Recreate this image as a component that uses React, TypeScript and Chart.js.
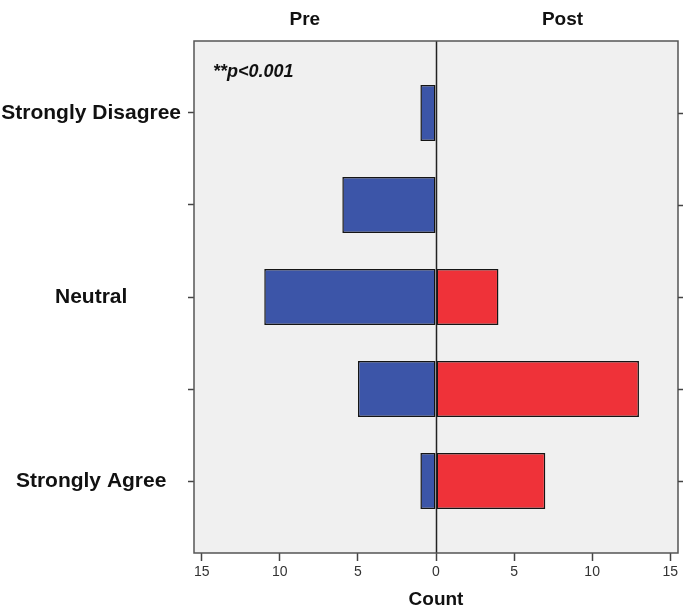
import React, { useEffect, useRef } from "react";
import { Chart, registerables } from "chart.js";

Chart.register(...registerables);

const categories = ["Strongly Disagree", "Disagree", "Neutral", "Agree", "Strongly Agree"];
const shownLabels = ["Strongly Disagree", "", "Neutral", "", "Strongly Agree"];
const preCounts = [1, 6, 11, 5, 1];
const postCounts = [0, 0, 4, 13, 7];
const xTickValues = [-15, -10, -5, 0, 5, 10, 15];
const panelTitles = ["Pre", "Post"];
const panelTitleAt = [-8.4, 8.1];
const noteText = "**p<0.001";

const FONT = '"Liberation Sans", Arial, Helvetica, sans-serif';

const decor = {
  id: "decor",
  beforeDraw(chart: any) {
    const { ctx, chartArea } = chart;
    ctx.save();
    ctx.fillStyle = "#F0F0F0";
    ctx.fillRect(chartArea.left, chartArea.top, chartArea.right - chartArea.left, chartArea.bottom - chartArea.top);
    ctx.restore();
  },
  afterDatasetsDraw(chart: any) {
    const { ctx, chartArea, scales } = chart;
    const xs = scales.x;
    const ys = scales.y;
    ctx.save();
    // zero line
    const x0 = Math.round(xs.getPixelForValue(0)) + 0.5;
    ctx.strokeStyle = "#222";
    ctx.lineWidth = 1.5;
    ctx.beginPath();
    ctx.moveTo(x0, chartArea.top);
    ctx.lineTo(x0, chartArea.bottom);
    ctx.stroke();
    // frame
    ctx.strokeStyle = "#555";
    ctx.lineWidth = 1.5;
    ctx.strokeRect(chartArea.left, chartArea.top, chartArea.right - chartArea.left, chartArea.bottom - chartArea.top);
    // right tick marks
    ctx.strokeStyle = "#444";
    ctx.beginPath();
    categories.forEach((_, i) => {
      const y = Math.round(ys.getPixelForValue(i)) + 0.5;
      ctx.moveTo(chartArea.right, y);
      ctx.lineTo(chartArea.right + 5, y);
    });
    ctx.stroke();
    // panel titles
    ctx.fillStyle = "#111";
    ctx.font = `bold 19px ${FONT}`;
    ctx.textAlign = "center";
    ctx.textBaseline = "middle";
    panelTitles.forEach((t, i) => {
      ctx.fillText(t, xs.getPixelForValue(panelTitleAt[i]), chartArea.top - 21);
    });
    // note
    ctx.font = `italic bold 18px ${FONT}`;
    ctx.textAlign = "left";
    ctx.textBaseline = "alphabetic";
    ctx.fillText(noteText, chartArea.left + 19, chartArea.top + 36);
    ctx.restore();
  },
};

export default function App() {
  const ref = useRef<HTMLCanvasElement | null>(null);

  useEffect(() => {
    if (!ref.current) return;
    const chart = new Chart(ref.current, {
      type: "bar",
      data: {
        datasets: [
          {
            label: "Pre",
            data: preCounts.map((v, i) => ({ x: -v, y: i })),
            backgroundColor: "#3C55A8",
            borderColor: "#151515",
            borderWidth: 1.5,
            borderSkipped: false,
            grouped: false,
            categoryPercentage: 0.61,
            barPercentage: 1,
          } as any,
          {
            label: "Post",
            data: postCounts.map((v, i) => ({ x: v, y: i })),
            backgroundColor: "#EF3239",
            borderColor: "#151515",
            borderWidth: 1.5,
            borderSkipped: false,
            grouped: false,
            categoryPercentage: 0.61,
            barPercentage: 1,
          } as any,
        ],
      },
      options: {
        indexAxis: "y",
        responsive: false,
        animation: false,
        layout: { padding: { top: 41, right: 5, left: 0, bottom: 0 } },
        plugins: { legend: { display: false }, tooltip: { enabled: false } },
        scales: {
          x: {
            type: "linear",
            position: "bottom",
            min: -15.5,
            max: 15.5,
            offset: false,
            afterBuildTicks: (s: any) => {
              s.ticks = xTickValues.map((v) => ({ value: v }));
            },
            afterFit: (s: any) => {
              s.height = 58;
            },
            grid: { offset: false, drawOnChartArea: false, drawTicks: true, tickLength: 8, tickColor: "#444", tickWidth: 1.5 },
            border: { display: false },
            ticks: {
              callback: (v: any) => String(Math.abs(Number(v))),
              font: { family: FONT, size: 14 },
              color: "#333",
              padding: 3,
              maxRotation: 0,
              autoSkip: false,
            },
            title: {
              display: true,
              text: "Count",
              font: { family: FONT, size: 19, weight: "bold" },
              color: "#111",
              padding: { top: 0, bottom: 0 },
            },
          },
          y: {
            type: "linear",
            position: "left",
            reverse: true,
            min: -0.7826,
            max: 4.7826,
            offset: false,
            afterBuildTicks: (s: any) => {
              s.ticks = categories.map((_, i) => ({ value: i }));
            },
            afterFit: (s: any) => {
              s.width = 194;
            },
            grid: { offset: false, drawOnChartArea: false, drawTicks: true, tickLength: 6, tickColor: "#444", tickWidth: 1.5 },
            border: { display: false },
            ticks: {
              callback: (v: any) => shownLabels[Number(v)] ?? "",
              crossAlign: "center",
              padding: 7,
              font: { family: FONT, size: 21, weight: "bold" },
              color: "#111",
              autoSkip: false,
            },
          },
        },
      } as any,
      plugins: [decor],
    });
    return () => chart.destroy();
  }, []);

  return (
    <div style={{ position: "fixed", left: 0, top: 0, width: 683, height: 611, background: "#fff" }}>
      <canvas ref={ref} width={683} height={611} style={{ display: "block" }} />
    </div>
  );
}
